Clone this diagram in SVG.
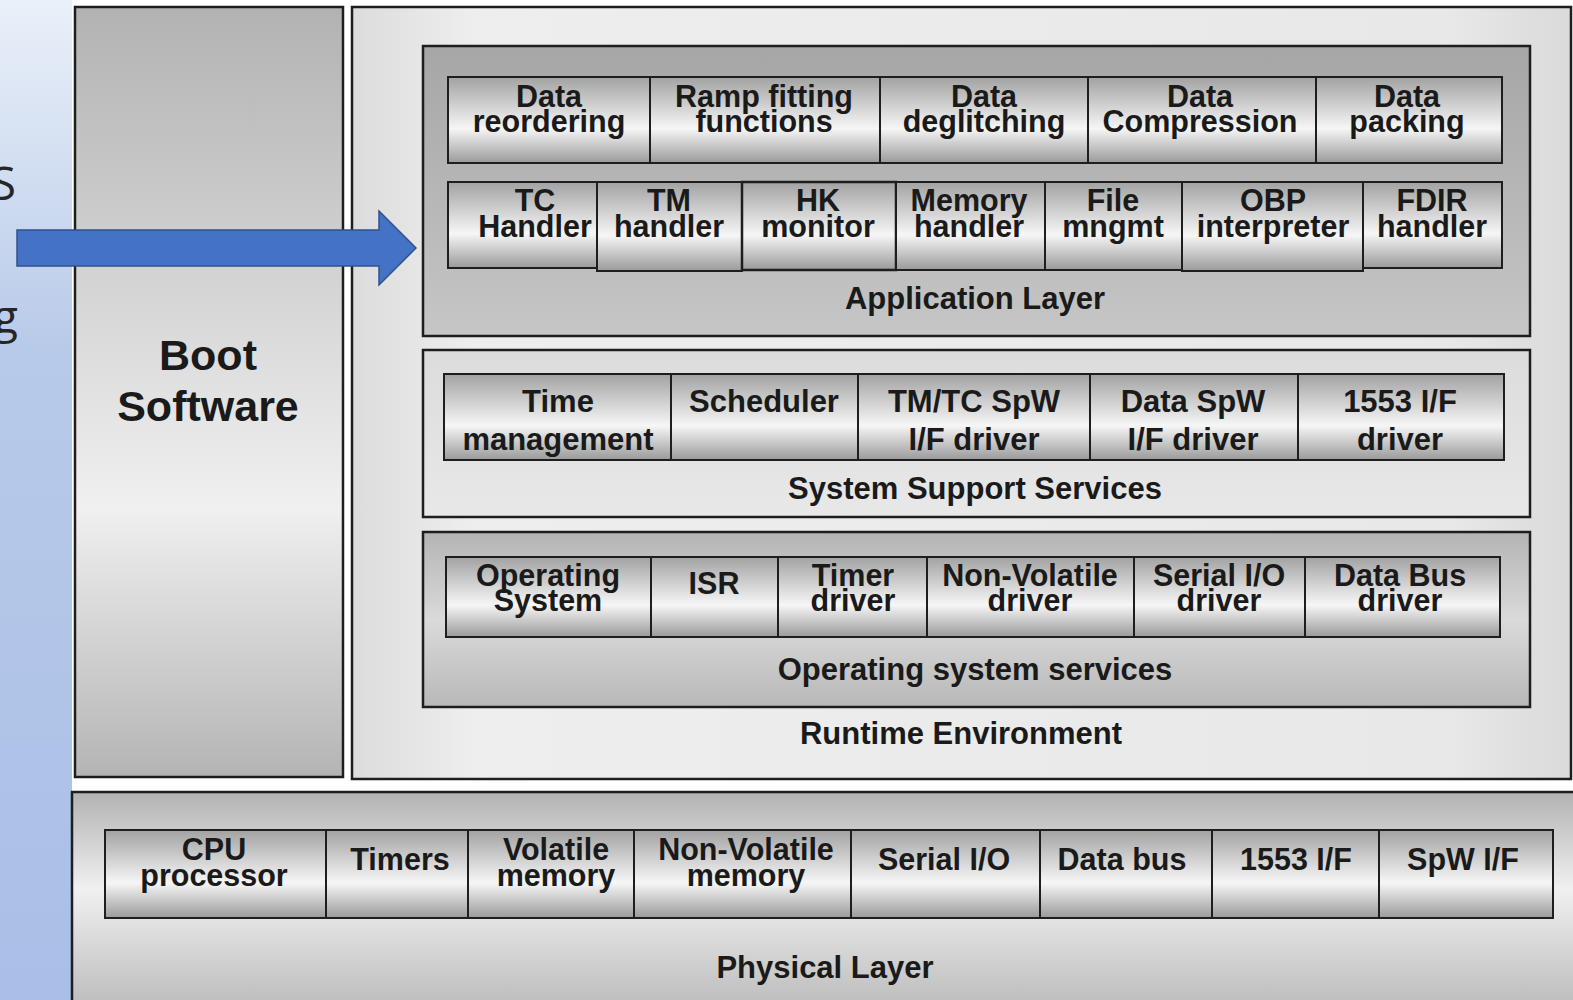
<svg xmlns="http://www.w3.org/2000/svg" width="1573" height="1000" viewBox="0 0 1573 1000">
<defs>
<linearGradient id="blueBg" x1="0" y1="0" x2="0" y2="1">
<stop offset="0" stop-color="#eaf0f9"/><stop offset="0.35" stop-color="#b8cae9"/><stop offset="1" stop-color="#a9bfe7"/>
</linearGradient>
<linearGradient id="cellGrad" x1="0" y1="0" x2="0" y2="1">
<stop offset="0" stop-color="#a2a2a2"/><stop offset="0.6" stop-color="#f6f6f6"/><stop offset="1" stop-color="#9a9a9a"/>
</linearGradient>
<linearGradient id="bootGrad" x1="0" y1="0" x2="0" y2="1">
<stop offset="0" stop-color="#b2b2b2"/><stop offset="0.65" stop-color="#f0f0f0"/><stop offset="1" stop-color="#b4b4b4"/>
</linearGradient>
<linearGradient id="rtGrad" x1="0" y1="0" x2="1" y2="0">
<stop offset="0" stop-color="#dcdcdc"/><stop offset="0.1" stop-color="#eeeeee"/><stop offset="0.9" stop-color="#e8e8e8"/><stop offset="1" stop-color="#dadada"/>
</linearGradient>
<linearGradient id="appGrad" x1="0" y1="0" x2="0" y2="1">
<stop offset="0" stop-color="#a6a6a6"/><stop offset="1" stop-color="#c6c6c6"/>
</linearGradient>
<linearGradient id="sssGrad" x1="0" y1="0" x2="0" y2="1">
<stop offset="0" stop-color="#dcdcdc"/><stop offset="1" stop-color="#e8e8e8"/>
</linearGradient>
<linearGradient id="ossGrad" x1="0" y1="0" x2="0" y2="1">
<stop offset="0" stop-color="#b4b4b4"/><stop offset="0.5" stop-color="#dadada"/><stop offset="1" stop-color="#b8b8b8"/>
</linearGradient>
<linearGradient id="physGrad" x1="0" y1="0" x2="0" y2="1">
<stop offset="0" stop-color="#b2b2b2"/><stop offset="0.45" stop-color="#f0f0f0"/><stop offset="1" stop-color="#bcbcbc"/>
</linearGradient>
<style>
.box{stroke:#1e1e1e;stroke-width:2.5}
.cell{fill:url(#cellGrad);stroke:#1e1e1e;stroke-width:2}
text{font-family:"Liberation Sans",Arial,sans-serif;font-weight:bold;fill:#1a1a1a;text-anchor:middle}
.t{font-size:30.5px}
.s{font-size:31px}
.big{font-size:43px}
.side{font-family:"Open Sans","Liberation Sans",sans-serif;font-weight:normal;font-size:46px;fill:#262626;text-anchor:end}
.arrow{fill:#4472c4;stroke:#2f528f;stroke-width:1.5}
</style>
</defs>
<rect x="0" y="0" width="1573" height="1000" fill="#ffffff"/>
<g id="side-panel">
<rect x="0" y="0" width="72" height="1000" fill="url(#blueBg)"/>
<text class="side" x="16" y="200">S</text>
<text class="side" x="18" y="333">g</text>
</g>
<g id="boot-software">
<rect class="box" x="75" y="7" width="268" height="770" fill="url(#bootGrad)"/>
<text class="big" x="208" y="370">Boot</text>
<text class="big" x="208" y="421">Software</text>
</g>
<g id="runtime-environment">
<rect class="box" x="352" y="7" width="1219" height="772" fill="url(#rtGrad)"/>
<text class="s" x="961" y="744">Runtime Environment</text>
</g>
<g id="application-layer">
<rect class="box" x="423" y="46" width="1107" height="290" fill="url(#appGrad)"/>
<text class="s" x="975" y="309">Application Layer</text>
</g>
<g id="data-reordering"><rect class="cell" x="448" y="77" width="202" height="86"/><text class="t" x="549" y="107">Data</text><text class="t" x="549" y="132">reordering</text></g>
<g id="ramp-fitting"><rect class="cell" x="650" y="77" width="230" height="86"/><text class="t" x="764" y="107">Ramp fitting</text><text class="t" x="764" y="132">functions</text></g>
<g id="data-deglitching"><rect class="cell" x="880" y="77" width="208" height="86"/><text class="t" x="984" y="107">Data</text><text class="t" x="984" y="132">deglitching</text></g>
<g id="data-compression"><rect class="cell" x="1088" y="77" width="228" height="86"/><text class="t" x="1200" y="107">Data</text><text class="t" x="1200" y="132">Compression</text></g>
<g id="data-packing"><rect class="cell" x="1316" y="77" width="186" height="86"/><text class="t" x="1407" y="107">Data</text><text class="t" x="1407" y="132">packing</text></g>
<g id="tc-handler"><rect class="cell" x="448" y="182" width="149" height="86"/><text class="t" x="535" y="211">TC</text><text class="t" x="535" y="237">Handler</text></g>
<g id="tm-handler"><rect class="cell" x="597" y="182" width="145" height="89"/><text class="t" x="669" y="211">TM</text><text class="t" x="669" y="237">handler</text></g>
<g id="hk-monitor"><rect class="cell" x="742" y="182" width="154" height="88" style="stroke-width:2.5"/><text class="t" x="818" y="211">HK</text><text class="t" x="818" y="237">monitor</text></g>
<g id="memory-handler"><rect class="cell" x="896" y="182" width="149" height="88"/><text class="t" x="969" y="211">Memory</text><text class="t" x="969" y="237">handler</text></g>
<g id="file-mngmt"><rect class="cell" x="1045" y="182" width="137" height="88"/><text class="t" x="1113" y="211">File</text><text class="t" x="1113" y="237">mngmt</text></g>
<g id="obp-interpreter"><rect class="cell" x="1182" y="182" width="181" height="89"/><text class="t" x="1273" y="211">OBP</text><text class="t" x="1273" y="237">interpreter</text></g>
<g id="fdir-handler"><rect class="cell" x="1363" y="182" width="139" height="86"/><text class="t" x="1432" y="211">FDIR</text><text class="t" x="1432" y="237">handler</text></g>
<g id="system-support-services">
<rect class="box" x="423" y="350" width="1107" height="167" fill="url(#sssGrad)"/>
<text class="s" x="975" y="499">System Support Services</text>
</g>
<g id="time-management"><rect class="cell" x="444" y="374" width="227" height="86"/><text class="s" x="558" y="412">Time</text><text class="s" x="558" y="450">management</text></g>
<g id="scheduler"><rect class="cell" x="671" y="374" width="187" height="86"/><text class="s" x="764" y="412">Scheduler</text></g>
<g id="tmtc-spw-driver"><rect class="cell" x="858" y="374" width="232" height="86"/><text class="s" x="974" y="412">TM/TC SpW</text><text class="s" x="974" y="450">I/F driver</text></g>
<g id="data-spw-driver"><rect class="cell" x="1090" y="374" width="208" height="86"/><text class="s" x="1193" y="412">Data SpW</text><text class="s" x="1193" y="450">I/F driver</text></g>
<g id="i1553-driver"><rect class="cell" x="1298" y="374" width="206" height="86"/><text class="s" x="1400" y="412">1553 I/F</text><text class="s" x="1400" y="450">driver</text></g>
<g id="operating-system-services">
<rect class="box" x="423" y="532" width="1107" height="175" fill="url(#ossGrad)"/>
<text class="s" x="975" y="680">Operating system services</text>
</g>
<g id="operating-system"><rect class="cell" x="446" y="557" width="205" height="80"/><text class="t" x="548" y="586">Operating</text><text class="t" x="548" y="611">System</text></g>
<g id="isr"><rect class="cell" x="651" y="557" width="127" height="80"/><text class="t" x="714" y="594">ISR</text></g>
<g id="timer-driver"><rect class="cell" x="778" y="557" width="149" height="80"/><text class="t" x="853" y="586">Timer</text><text class="t" x="853" y="611">driver</text></g>
<g id="nonvolatile-driver"><rect class="cell" x="927" y="557" width="207" height="80"/><text class="t" x="1030" y="586">Non-Volatile</text><text class="t" x="1030" y="611">driver</text></g>
<g id="serial-io-driver"><rect class="cell" x="1134" y="557" width="171" height="80"/><text class="t" x="1219" y="586">Serial I/O</text><text class="t" x="1219" y="611">driver</text></g>
<g id="data-bus-driver"><rect class="cell" x="1305" y="557" width="195" height="80"/><text class="t" x="1400" y="586">Data Bus</text><text class="t" x="1400" y="611">driver</text></g>
<g id="physical-layer">
<rect class="box" x="72" y="792" width="1510" height="215" fill="url(#physGrad)"/>
<text class="s" x="825" y="978">Physical Layer</text>
</g>
<g id="cpu-processor"><rect class="cell" x="105" y="830" width="221" height="88"/><text class="t" x="214" y="860">CPU</text><text class="t" x="214" y="886">processor</text></g>
<g id="timers"><rect class="cell" x="326" y="830" width="142" height="88"/><text class="t" x="400" y="870">Timers</text></g>
<g id="volatile-memory"><rect class="cell" x="468" y="830" width="166" height="88"/><text class="t" x="556" y="860">Volatile</text><text class="t" x="556" y="886">memory</text></g>
<g id="nonvolatile-memory"><rect class="cell" x="634" y="830" width="217" height="88"/><text class="t" x="746" y="860">Non-Volatile</text><text class="t" x="746" y="886">memory</text></g>
<g id="serial-io"><rect class="cell" x="851" y="830" width="189" height="88"/><text class="t" x="944" y="870">Serial I/O</text></g>
<g id="data-bus"><rect class="cell" x="1040" y="830" width="172" height="88"/><text class="t" x="1122" y="870">Data bus</text></g>
<g id="i1553"><rect class="cell" x="1212" y="830" width="167" height="88"/><text class="t" x="1296" y="870">1553 I/F</text></g>
<g id="spw-if"><rect class="cell" x="1379" y="830" width="174" height="88"/><text class="t" x="1463" y="870">SpW I/F</text></g>
<g id="connectors">
<polygon class="arrow" points="17,230 379,230 379,211 416,248 379,285 379,266 17,266"/>
</g>
</svg>
